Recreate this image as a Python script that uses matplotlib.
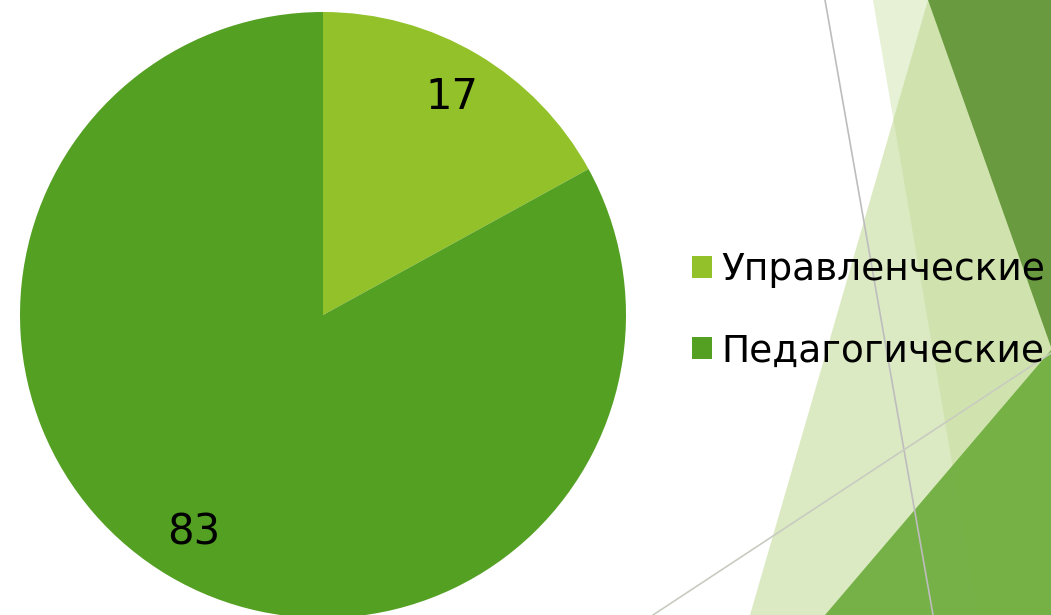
import matplotlib
matplotlib.use('Agg')
import matplotlib.pyplot as plt
from matplotlib.patches import Polygon, Patch

# chart data
categories = ['Управленческие', 'Педагогические']
values     = [17, 83]
colors     = ['#93C12A', '#54A023']

W, H = 1051, 615
plt.rcParams['font.family'] = ['DejaVu Sans']

fig = plt.figure(figsize=(W / 100, H / 100), dpi=100)
fig.patch.set_facecolor('white')

# decorative background (slide theme facets), in pixel coords
bg = fig.add_axes([0, 0, 1, 1])
bg.set_xlim(0, W)
bg.set_ylim(H, 0)
bg.axis('off')

facet = '#BBD789'
bg.add_patch(Polygon([(873, 0), (978, H), (W, H), (W, 0)], closed=True,
                     facecolor=facet, alpha=0.35, lw=0))
bg.add_patch(Polygon([(928, 0), (750, H), (W, H), (W, 0)], closed=True,
                     facecolor=facet, alpha=0.5, lw=0))
bg.add_patch(Polygon([(928, 0), (W, 0), (W, 347)], closed=True,
                     facecolor='#6A9A3F', lw=0))
bg.add_patch(Polygon([(W, 350), (825, H), (W, H)], closed=True,
                     facecolor='#6EAD3D', alpha=0.92, lw=0))
bg.plot([825, 933], [0, H], color='#BDBDBD', lw=1.2)
bg.plot([653, W], [H, 353], color='#C8CCC0', lw=1.2)

# pie
cx, cy, r = 323, 315, 303
ax = fig.add_axes([(cx - r) / W, (H - cy - r) / H, 2 * r / W, 2 * r / H])
_, _, autotexts = ax.pie(values, colors=colors, startangle=90, counterclock=False,
                         autopct=lambda p: f"{p * sum(values) / 100:.0f}",
                         pctdistance=0.835,
                         textprops={'fontsize': 30, 'color': 'black'},
                         wedgeprops={'linewidth': 0})
ax.set_xlim(-1, 1)
ax.set_ylim(-1, 1)
ax.set_aspect('equal')

handles = [Patch(facecolor=c, edgecolor='none') for c in colors]
fig.legend(handles, categories, loc='center left',
           bbox_to_anchor=(692 / W, 1 - 311 / H), frameon=False,
           fontsize=27, borderpad=0, borderaxespad=0,
           handlelength=0.52, handleheight=0.52, handletextpad=0.27,
           labelspacing=1.2)

plt.savefig('out.png', dpi=100)
plt.close()
